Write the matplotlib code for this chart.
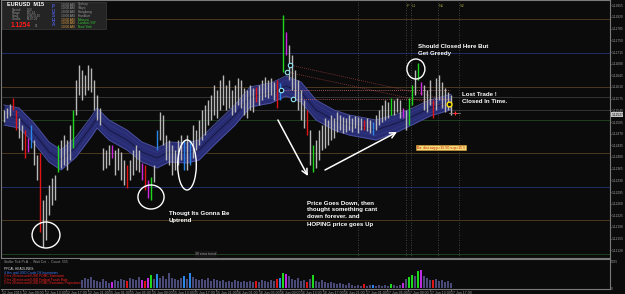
import numpy as np
import matplotlib.pyplot as plt
from matplotlib.patches import Ellipse, Rectangle

W, H = 625, 294
BG = "#0b0b0b"

# EURUSD M15 bars (high / low)
high = [1.12541, 1.12547, 1.12559, 1.12577, 1.12541, 1.12517, 1.12496, 1.12481, 1.12457, 1.12496,
        1.12451, 1.12406, 1.12412, 1.12271, 1.12286, 1.12316, 1.12337, 1.12346, 1.12436, 1.12451,
        1.12466, 1.12451, 1.12496, 1.12541, 1.12631, 1.12676, 1.12661, 1.12646, 1.12676, 1.12667,
        1.12631, 1.12586, 1.12547, 1.12427, 1.12421, 1.12436, 1.12436, 1.12421, 1.12427, 1.12415,
        1.12391, 1.12376, 1.12391, 1.12421, 1.12436, 1.12421, 1.12382, 1.12376, 1.12331, 1.12340,
        1.12376, 1.12481, 1.12535, 1.12526, 1.12466, 1.12451, 1.12436, 1.12421, 1.12451, 1.12466,
        1.12451, 1.12466, 1.12451, 1.12496, 1.12481, 1.12511, 1.12541, 1.12556, 1.12571, 1.12586,
        1.12616, 1.12601, 1.12631, 1.12646, 1.12616, 1.12631, 1.12601, 1.12616, 1.12637, 1.12631,
        1.12607, 1.12601, 1.12616, 1.12607, 1.12610, 1.12616, 1.12631, 1.12640, 1.12631, 1.12637,
        1.12625, 1.12631, 1.12622, 1.12826, 1.12775, 1.12736, 1.12706, 1.12661, 1.12631, 1.12601,
        1.12571, 1.12541, 1.12481, 1.12436, 1.12451, 1.12481, 1.12496, 1.12517, 1.12511, 1.12526,
        1.12517, 1.12535, 1.12526, 1.12520, 1.12517, 1.12526, 1.12517, 1.12523, 1.12520, 1.12517,
        1.12511, 1.12517, 1.12511, 1.12505, 1.12526, 1.12541, 1.12556, 1.12571, 1.12565, 1.12577,
        1.12571, 1.12577, 1.12571, 1.12547, 1.12541, 1.12577, 1.12616, 1.12661, 1.12682, 1.12625,
        1.12616, 1.12601, 1.12631, 1.12571, 1.12637, 1.12646, 1.12625, 1.12607, 1.12595, 1.12586]
low = [1.12505, 1.12517, 1.12523, 1.12541, 1.12481, 1.12457, 1.12421, 1.12397, 1.12415, 1.12427,
       1.12376, 1.12331, 1.12175, 1.12130, 1.12151, 1.12226, 1.12256, 1.12271, 1.12355, 1.12367,
       1.12376, 1.12361, 1.12391, 1.12427, 1.12526, 1.12586, 1.12571, 1.12586, 1.12601, 1.12595,
       1.12541, 1.12511, 1.12496, 1.12361, 1.12367, 1.12376, 1.12397, 1.12346, 1.12361, 1.12331,
       1.12316, 1.12307, 1.12331, 1.12346, 1.12361, 1.12355, 1.12331, 1.12301, 1.12277, 1.12271,
       1.12325, 1.12421, 1.12451, 1.12436, 1.12391, 1.12376, 1.12346, 1.12361, 1.12376, 1.12391,
       1.12361, 1.12361, 1.12376, 1.12397, 1.12421, 1.12436, 1.12451, 1.12466, 1.12496, 1.12511,
       1.12526, 1.12517, 1.12541, 1.12556, 1.12541, 1.12547, 1.12526, 1.12535, 1.12556, 1.12547,
       1.12526, 1.12517, 1.12541, 1.12535, 1.12565, 1.12556, 1.12571, 1.12580, 1.12577, 1.12586,
       1.12571, 1.12547, 1.12571, 1.12655, 1.12706, 1.12631, 1.12601, 1.12571, 1.12541, 1.12511,
       1.12487, 1.12466, 1.12376, 1.12355, 1.12367, 1.12391, 1.12421, 1.12427, 1.12436, 1.12451,
       1.12457, 1.12475, 1.12481, 1.12472, 1.12475, 1.12481, 1.12475, 1.12487, 1.12472, 1.12481,
       1.12481, 1.12478, 1.12472, 1.12466, 1.12481, 1.12496, 1.12505, 1.12511, 1.12517, 1.12526,
       1.12526, 1.12535, 1.12517, 1.12517, 1.12481, 1.12496, 1.12556, 1.12586, 1.12631, 1.12586,
       1.12541, 1.12535, 1.12556, 1.12517, 1.12541, 1.12571, 1.12547, 1.12535, 1.12541, 1.12526]

red_bars = [3, 4, 7, 12, 41, 47, 84, 91, 101, 120, 143]
green_bars = [18, 23, 49, 93, 103, 129, 135, 136, 138]
blue_bars = [9, 51, 60, 62, 92, 123]
magenta_bars = [8, 36, 46, 48, 94, 133, 139]

volume = [1230, 1440, 1650, 1840, 1420, 1630, 2050, 1860, 1640, 2470, 2250, 2880, 3270, 2660, 2040,
          1850, 1630, 1860, 2450, 2060, 1840, 1650, 1430, 2260, 2670, 2450,
          1640, 2060, 1850, 2250, 1640, 1430, 1240, 1850, 1430, 1030, 1240, 1640, 1430, 1850, 1640,
          1430, 2050, 1850, 1640, 2260, 1640, 1430, 2050, 2660,
          1850, 2870, 2050, 2460, 1850, 3080, 2050, 1850, 1640, 2050, 2460, 1850, 3080, 2260, 1850,
          1640, 1850, 1640, 2050, 1430, 1850, 1640, 1430, 1640, 1230, 1430, 1230, 1640, 1430, 1230,
          1430, 1230, 1430, 1230, 1430, 1230, 1640, 1430, 1230, 1640, 1430, 1850, 2050, 3080, 2870,
          2460, 1850, 1640, 2050, 1430, 1640, 1230, 1850, 2660, 1430, 1230, 1640, 1230, 1030, 1230,
          1030, 820, 1030, 820, 620, 1030, 620, 410, 620, 410, 820, 410, 620, 620, 410, 620, 410, 620,
          410, 820, 620, 410, 620, 1030, 1850, 2250, 2660, 2460, 3490, 3690, 2460, 2050, 1640, 1640,
          1850, 1430, 1640, 1230, 1430, 1030]

# moving-average envelope (30 ema trend), anchor bars
band_idx = [0, 5, 10, 15, 19, 24, 29, 31, 35, 41, 46, 51, 55, 61, 65, 70, 77, 82, 89, 94, 99,
            104, 110, 115, 124, 131, 135, 142, 149]
band_mid = [1.12526, 1.12517, 1.12472, 1.12415, 1.12391, 1.12430, 1.12490, 1.12517, 1.12481,
            1.12451, 1.12415, 1.12397, 1.12415, 1.12412, 1.12421, 1.12466, 1.12526, 1.12580,
            1.12592, 1.12613, 1.12595, 1.12541, 1.12511, 1.12496, 1.12481, 1.12502, 1.12517,
            1.12547, 1.12565]
band_half = [0.0003] * 25 + [0.00027, 0.00025, 0.00024, 0.00023]

level_prices = [1.12814, 1.12712, 1.12610, 1.12511, 1.12412, 1.12310, 1.12211, 1.12109]
level_colors = ["#4a3820", "#1f2d6a", "#4a3820", "#1d401d", "#4a3820", "#1f2d6a", "#4a3820", "#1d401d"]
grey_levels = [1.12580, 1.12541]
last_price = 1.12527
price_ticks = 1.12540 + 0.00035 * np.arange(-12, 10)

time_labels = ["12 Jun 2015", "12 Jun 09:00", "12 Jun 13:00", "12 Jun 17:00", "12 Jun 21:00",
               "15 Jun 01:00", "15 Jun 05:00", "15 Jun 09:00", "15 Jun 13:00", "15 Jun 17:00",
               "15 Jun 21:00", "16 Jun 01:00", "16 Jun 05:00", "16 Jun 09:00", "16 Jun 13:00",
               "16 Jun 17:00", "16 Jun 21:00", "17 Jun 01:00", "17 Jun 05:00", "17 Jun 09:00",
               "17 Jun 13:00", "17 Jun 17:00"]

headlines = [("PFCAL HEADLINES:", "#e0e0e0"),
             ("4 Hrs until USD Crude Oil Inventories", "#3a7bff"),
             ("2 hrs 28 mins until USD FOMC Statement", "#ff2020"),
             ("2 hrs 28 mins until USD Federal Funds Rate", "#ff2020"),
             ("2 hrs 28 mins until USD FOMC Economic Projections", "#ff2020")]

sessions = ["Sydney", "Tokyo", "Hongkong", "Frankfurt", "Moscow", "London / NY", "New York"]

plt.rcParams["font.family"] = ["Liberation Sans", "DejaVu Sans"]

fig = plt.figure(figsize=(W / 100, H / 100), dpi=100, facecolor=BG)


def fx(px):
    return px / W


def fy(py):
    return 1 - py / H


def ftext(x, y, s, **kw):
    fig.text(fx(x), fy(y), s, **kw)


ax = fig.add_axes([fx(1), fy(258), fx(609), 258 / H], facecolor=BG)
vol = fig.add_axes([fx(1), fy(289), fx(609), 30 / H], facecolor=BG)

n = len(high)
idx = np.arange(n)

# level lines
for p, c in zip(level_prices, level_colors):
    ax.axhline(p, color=c, lw=0.7, zorder=1)
for p in grey_levels:
    ax.axhline(p, color="#3a3a3a", lw=0.6, zorder=1)

# vertical dotted session lines
for v, lab in zip([118, 134, 135.7, 144.7, 151.7], ["", "P", "L1", "N1", "S2"]):
    ax.axvline(v, color="#555555", ls=(0, (1, 2)), lw=0.6, zorder=1)
    if lab:
        ax.text(v + 0.3, 1.12858, lab, color="#9a9a40", fontsize=2.8, va="top")

# envelope band
bx = np.array(band_idx)
bm = np.array(band_mid)
bh = np.array(band_half)
ax.fill_between(bx, bm - bh, bm + bh, color="#282c72", lw=0, zorder=2)
for f, c, w in [(1.0, "#4b509e", 0.7), (-1.0, "#4b509e", 0.7), (0.55, "#373c8c", 0.4),
                (-0.55, "#373c8c", 0.4), (0.0, "#14163a", 0.6)]:
    ax.plot(bx, bm + f * bh, color=c, lw=w, zorder=2)

# price bars
colors = ["#b8b8b8"] * n
for lst, c in [(red_bars, "#e01414"), (green_bars, "#1ed81e"), (blue_bars, "#2a86e8"),
               (magenta_bars, "#d02ae0")]:
    for i in lst:
        colors[i] = c
ax.vlines(idx, low, high, colors=colors, lw=1.0, zorder=4)

# trend lines from the spike
ax.plot([95.3, 148.7], [1.12676, 1.12571], color="#9a3c3c", ls=(0, (1, 1.5)), lw=0.6, zorder=3)
ax.plot([94.3, 148.7], [1.12655, 1.12550], color="#9a3c3c", ls=(0, (1, 1.5)), lw=0.6, zorder=3)
ax.plot([92.3, 148.7], [1.12601, 1.12601], color="#d07070", ls=(0, (1, 1.5)), lw=0.6, zorder=3)
ax.plot([96.3, 148.7], [1.12574, 1.12574], color="#c06060", ls=(0, (1, 1.5)), lw=0.6, zorder=3)
ax.plot([95.3, 94.3, 92.3, 96.3], [1.12676, 1.12655, 1.12601, 1.12574], "o", ms=3.2,
        mfc="#0b0b0b", mec="#8fe6f5", mew=0.8, zorder=5)

# last bar markers
ax.plot([148.3], [1.12559], "o", ms=3.5, mfc="#111111", mec="#ffe800", mew=1.0, zorder=6)
ax.plot([148.3, 152], [1.12532, 1.12532], color="#888888", lw=0.6, zorder=5)
ax.plot([150.3], [1.12532], "+", ms=2.5, color="#ff3030", mew=0.8, zorder=6)

# hand-drawn circles
for (cx, cy, w, h) in [(14, 1.12166, 9.3, 0.00078), (49, 1.12280, 8.7, 0.00072),
                       (61, 1.12376, 6.2, 0.0015), (137.3, 1.12664, 6.0, 0.0006)]:
    ax.add_patch(Ellipse((cx, cy), w, h, fill=False, ec="white", lw=1.0, zorder=7))

# arrows
arw = dict(arrowstyle="->", color="white", lw=1.1, mutation_scale=10, shrinkA=0, shrinkB=0)
ax.annotate("", xy=(101.3, 1.12343), xytext=(91.3, 1.12511), arrowprops=arw, zorder=7)
ax.annotate("", xy=(131, 1.12475), xytext=(107, 1.12361), arrowprops=arw, zorder=7)

# axes styling
ax.set_xlim(-1, 202)
ax.set_ylim(1.12097, 1.12871)
vol.set_xlim(-1, 202)
vol.set_ylim(-202, 5872)
for a in (ax, vol):
    for s in a.spines.values():
        s.set_color("#7a7a7a")
        s.set_linewidth(0.8)
    a.yaxis.tick_right()
ax.set_xticks([])
ax.set_yticks(price_ticks)
ax.set_yticklabels([f"{p:.5f}" for p in price_ticks])
ax.tick_params(axis="y", labelsize=2.3, length=1.0, width=0.5, pad=0.4, colors="#a0a0a0")
ax.text(1.002, last_price, f"{last_price:.5f}", transform=ax.get_yaxis_transform(),
        fontsize=2.3, color="#000000", va="center", ha="left",
        bbox=dict(boxstyle="square,pad=0.12", fc="#c8c8c8", ec="none"), zorder=8, clip_on=False)

# volume panel
vcol = ["#4a4a78"] * n
for lst, c in [(red_bars, "#e01414"), (green_bars, "#1ed81e"), (blue_bars, "#2a86e8"),
               (magenta_bars, "#c02ae0")]:
    for i in lst:
        vcol[i] = c
vol.bar(idx, volume, width=0.7, color=vcol, lw=0, zorder=2)
vol.add_patch(Rectangle((0, 0), 79 / 609, 1, transform=vol.transAxes, fc=BG, ec="none", zorder=3))
vol.set_yticks([0, 5265])
vol.set_yticklabels(["0", "5265"])
vol.tick_params(axis="y", labelsize=2.3, length=0, pad=0.5, colors="#a0a0a0")
time_pos = np.arange(len(time_labels)) * 7.13 - 0.67
vol.set_xticks(time_pos)
vol.set_xticklabels(time_labels, ha="left")
vol.tick_params(axis="x", labelsize=2.5, length=1.2, width=0.4, pad=0.3, colors="#a0a0a0")

# info panel
fig.patches.append(Rectangle((fx(2), fy(29)), fx(104), 27 / H, transform=fig.transFigure,
                             fc="#242424", ec="#3c3c3c", lw=0.5, zorder=5))
ftext(7, 2.5, "EURUSD  M15", color="white", fontsize=4, weight="bold", va="top", zorder=6)
for k, (lab, val) in enumerate(zip(["Spread", "Range", "Swap", "Candle"],
                                   ["1.60", "135.14", "-0.86/-0.16", "00:07:29"])):
    ftext(12, 8 + 3.0 * k, lab, color="#9a9a9a", fontsize=2.1, va="top", zorder=6)
    ftext(27, 8 + 3.0 * k, val, color="#9a9a9a", fontsize=2.1, va="top", zorder=6)
ftext(11, 21.8, "1.1254", color="#ff1a1a", fontsize=4.8, weight="bold", va="top", zorder=6)
ftext(35, 24, "3", color="#cccccc", fontsize=2.4, va="top", zorder=6)
for k, ch in enumerate("PUSHA"):
    ftext(52, 4 + 4.6 * k, ch, color="#4a5ad8", fontsize=3.3, weight="bold", va="top", zorder=6)
for k, s in enumerate(sessions):
    tcol = "#9a9a9a" if k < 4 else "#e0a040"
    scol = "#9a9a9a" if k < 4 else "#30d030"
    ftext(61, 2.5 + 3.8 * k, "10:00 AM", color=tcol, fontsize=2.3, va="top", zorder=6)
    ftext(78, 2.5 + 3.8 * k, s, color=scol, fontsize=2.3, va="top", zorder=6)

# sub-window texts
ftext(4, 260, "Stoller Tick Pr.A  -  Wait Cnt  -  Count: 555", color="#9a9a9a", fontsize=2.4, va="top")
for k, (s, c) in enumerate(headlines):
    ftext(4, 267 + 3.6 * k, s, color=c, fontsize=2.3, va="top")
ftext(206, 254, "30 ema trend", color="#a0a0a0", fontsize=2.6, ha="center", va="center",
      bbox=dict(boxstyle="square,pad=0.2", fc="#151515", ec="none"))

# annotations
note = dict(color="white", fontsize=4.4, weight="bold", va="top", linespacing=1.55, zorder=9)
ftext(418, 43.5, "Should Closed Here But\nGet Greedy", **note)
ftext(462, 92, "Lost Trade !\nClosed In Time.", **note)
ftext(169, 211, "Thougt Its Gonna Be\nUptrend", **note)
ftext(307, 200, "Price Goes Down, then\nthought something cant\ndown forever. and\nHOPING price goes Up",
      **note)
ftext(417, 145.5, "Ba: dist avg p=15.50 s=p=15.5", color="#d01010", fontsize=2.5, va="top",
      bbox=dict(boxstyle="square,pad=0.2", fc="#f2e07a", ec="#e0a030", lw=0.4))

fig.savefig("out.png", dpi=100, facecolor=BG)
